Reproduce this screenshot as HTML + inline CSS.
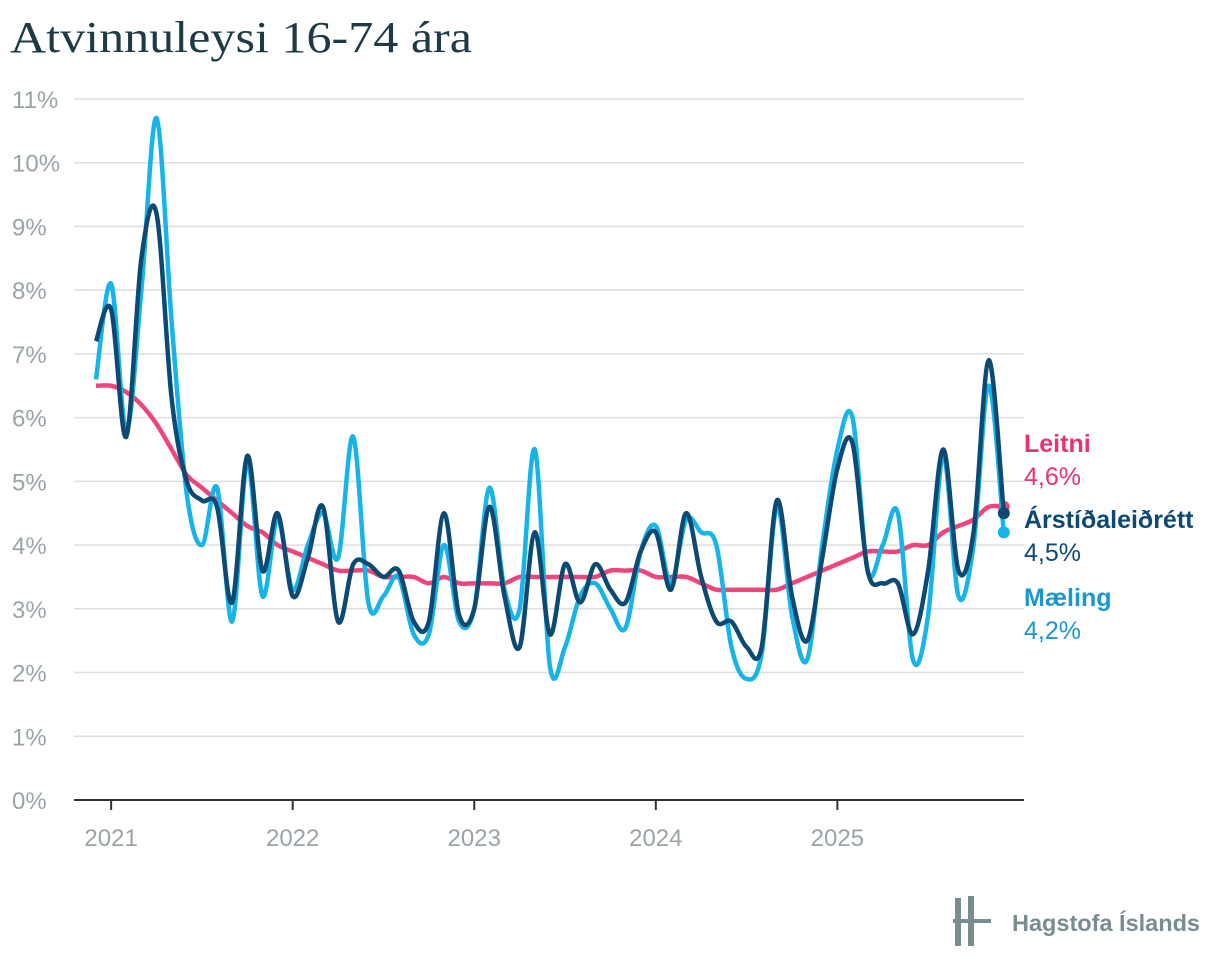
<!DOCTYPE html>
<html><head><meta charset="utf-8"><style>
body{margin:0;background:#fff;width:1220px;height:972px;overflow:hidden;font-family:"Liberation Sans",sans-serif}
</style></head><body>
<svg width="1220" height="972" xmlns="http://www.w3.org/2000/svg">
<text x="10" y="52" font-family="Liberation Serif,serif" font-size="44" textLength="462" lengthAdjust="spacingAndGlyphs" fill="#1d3a45">Atvinnuleysi 16-74 ára</text>
<g id="grid"></g><g id="lines"></g><g id="labels"></g>
<g>
<rect x="955" y="898" width="6" height="48" fill="#7a8c91"/><rect x="968" y="896" width="6" height="50" fill="#7a8c91"/><rect x="953" y="919" width="38" height="4" fill="#7a8c91"/>
<text x="1012" y="931" font-size="23" font-weight="bold" fill="#7a8c91" textLength="188" lengthAdjust="spacingAndGlyphs">Hagstofa Íslands</text></g>
</svg>
<script>
const yTicks=[0,1,2,3,4,5,6,7,8,9,10,11];
const years=["2021","2022","2023","2024","2025"];
const maeling=[6.6,8.1,5.8,8.0,10.7,7.5,4.8,4.0,4.9,2.8,5.3,3.2,4.4,3.3,4.0,4.5,3.8,5.7,3.1,3.2,3.5,2.6,2.6,4.0,2.8,3.0,4.9,3.3,3.0,5.5,2.1,2.4,3.2,3.4,3.0,2.7,3.9,4.3,3.4,4.4,4.2,4.0,2.4,1.9,2.3,4.6,2.9,2.2,4.0,5.5,6.0,3.6,4.0,4.5,2.2,2.9,5.4,3.2,4.0,6.5,4.2];
const arst=[7.2,7.7,5.7,8.5,9.2,6.3,5.0,4.7,4.6,3.1,5.4,3.6,4.5,3.2,3.8,4.6,2.8,3.7,3.7,3.5,3.6,2.8,2.8,4.5,2.9,3.0,4.6,3.2,2.4,4.2,2.6,3.7,3.1,3.7,3.3,3.1,3.9,4.2,3.3,4.5,3.5,2.8,2.8,2.4,2.4,4.7,3.2,2.5,3.8,5.2,5.6,3.6,3.4,3.4,2.6,3.6,5.5,3.6,4.2,6.9,4.5];
const leitni=[6.5,6.5,6.4,6.2,5.9,5.5,5.1,4.9,4.7,4.5,4.3,4.2,4.0,3.9,3.8,3.7,3.6,3.6,3.6,3.5,3.5,3.5,3.4,3.5,3.4,3.4,3.4,3.4,3.5,3.5,3.5,3.5,3.5,3.5,3.6,3.6,3.6,3.5,3.5,3.5,3.4,3.3,3.3,3.3,3.3,3.3,3.4,3.5,3.6,3.7,3.8,3.9,3.9,3.9,4.0,4.0,4.2,4.3,4.4,4.6,4.6];
const NS="http://www.w3.org/2000/svg";
const X=i=>96+i*15.13, Y=v=>800-v*63.73;
function el(t,a,p){const e=document.createElementNS(NS,t);for(const k in a)e.setAttribute(k,a[k]);document.getElementById(p).appendChild(e);return e;}
yTicks.forEach(v=>{
 if(v>0){const g=el('line',{x1:74,x2:1024,y1:Y(v),y2:Y(v),stroke:'#dedede','stroke-width':1.5},'grid');
 
 }
 const t=el('text',{x:12,y:Y(v)+9,'font-size':24,fill:'#9aa4a8'},'grid');t.textContent=v+'%';
 
 
});
const ax=el('line',{x1:74,x2:1024,y1:800,y2:800,stroke:'#333','stroke-width':2},'grid');


years.forEach((y,k)=>{const x=X(1+12*k);
 const tk=el('line',{x1:x,x2:x,y1:800,y2:810,stroke:'#333','stroke-width':2},'grid');
 
 
 const t=el('text',{x:x,y:846,'font-size':24,fill:'#9aa4a8','text-anchor':'middle'},'grid');t.textContent=y;
 
 
});
function path(d){let s=`M${X(0)},${Y(d[0])}`;for(let i=0;i<d.length-1;i++){const p0=d[Math.max(0,i-1)],p1=d[i],p2=d[i+1],p3=d[Math.min(d.length-1,i+2)];
 const x1=X(i),x2=X(i+1);s+=` C${x1+(x2-X(Math.max(0,i-1)))/6},${Y(p1+(p2-p0)/6)} ${x2-(X(Math.min(d.length-1,i+2))-x1)/6},${Y(p2-(p3-p1)/6)} ${x2},${Y(p2)}`;}return s;}
[[leitni,'#f0457a','leitni-line'],[maeling,'#16b4e9','maeling-line'],[arst,'#0d4a73','arstidaleidrett-line']].forEach(([d,c,n])=>{
 const p=el('path',{d:path(d),fill:'none',stroke:c,'stroke-width':4.5,'stroke-linejoin':'round'},'lines');
 
 
 const e=el('circle',{cx:X(d.length-1),cy:Y(d[d.length-1]),r:6,fill:c},'lines');
 
 
});
[['Leitni','4,6%','#e8336f',452],['Árstíðaleiðrétt','4,5%','#0d4a73',528],['Mæling','4,2%','#1a97d0',606]].forEach(([a,b,c,y])=>{
 const t=el('text',{x:1024,y:y,'font-size':25,'font-weight':'bold',fill:c},'labels');t.textContent=a;
 
 
 const v=el('text',{x:1024,y:y+33,'font-size':25,fill:c},'labels');v.textContent=b;
 
 
});
</script>
</body></html>
